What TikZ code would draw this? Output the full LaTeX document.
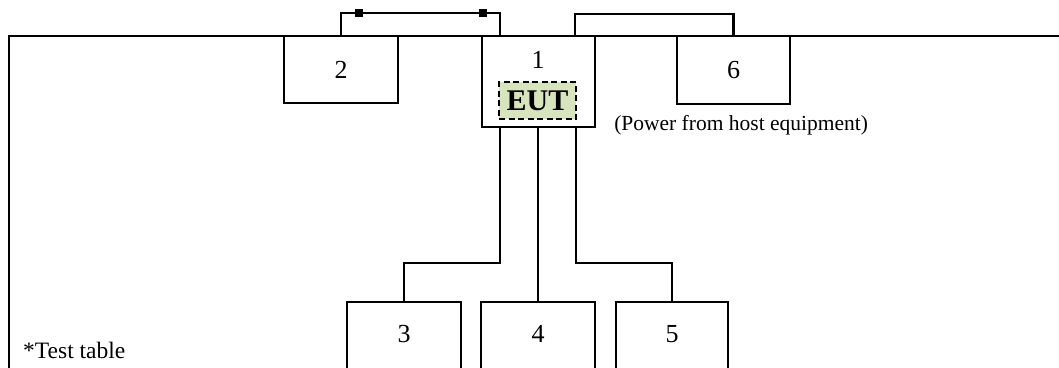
\documentclass[tikz,border=0pt]{standalone}
\usepackage{fontspec}
\setmainfont{Liberation Serif}
\definecolor{eutgreen}{HTML}{D7E4BD}
\begin{document}
\begin{tikzpicture}[x=1pt,y=-1pt,
  line width=2.5pt,
  box/.style={draw,line width=2.5pt,anchor=north west,inner sep=0pt,outer sep=0pt},
  wire/.style={draw,line width=2.5pt},
  digit/.style={font=\fontsize{26}{28}\selectfont,inner sep=0pt},
  lbl/.style={font=\fontsize{21.5}{24}\selectfont,inner sep=0pt},
  plug/.style={fill=black,minimum size=8pt,inner sep=0pt,draw=none}]
\useasboundingbox (0,0) rectangle (1059,367);
\clip (0,0) rectangle (1059,367);
% table
\draw[wire] (9,400) -- (9,36) -- (1070,36);
% boxes
\node[box,minimum width=114pt,minimum height=67pt] (b2) at (284,36) {};
\node[box,minimum width=113pt,minimum height=91pt] (b1) at (482,36) {};
\node[box,minimum width=113pt,minimum height=68pt] (b6) at (677,36) {};
\node[box,minimum width=114pt,minimum height=90pt] (b3) at (347,302) {};
\node[box,minimum width=114pt,minimum height=90pt] (b4) at (481,302) {};
\node[box,minimum width=112pt,minimum height=90pt] (b5) at (616,302) {};
% texts
\node[digit] (t2) at (b2.center) {2};
\node[digit] (t6) at (b6.center) {6};
\node[digit] (t1) at (538,60) {1};
\node[digit] (t3) at (404,334) {3};
\node[digit] (t4) at (538,334) {4};
\node[digit] (t5) at (672,334) {5};
\node[draw,dash pattern=on 6pt off 3.5pt,line width=2.5pt,fill=eutgreen,
  minimum width=77pt,minimum height=37pt,inner sep=0pt,
  font=\fontsize{30}{32}\selectfont\bfseries] (eut) at (537.5,100.5) {EUT};
\node[lbl,anchor=west] (pw) at (613,125) {(Power from host equipment)};
\node[lbl,anchor=west,font=\fontsize{23.5}{26}\selectfont] (tt) at (22,350) {*Test table};
% connectors
\coordinate (a2) at (500,13);
\draw[wire] (b2.north) |- (a2) -- (a2 |- b1.north);
\node[plug] (p1) at (359,13) {};
\node[plug] (p2) at (483,13) {};
\coordinate (c1) at (575,14);
\draw[wire] (c1 |- b1.north) -- (c1) -| (b6.north);
\coordinate (d1) at (500,263);
\coordinate (d2) at (576,263);
\draw[wire] (d1 |- b1.south) -- (d1) -| (b3.north);
\draw[wire] (b1.south -| b4.north) -- (b4.north);
\draw[wire] (d2 |- b1.south) -- (d2) -| (b5.north);
\end{tikzpicture}
\end{document}
